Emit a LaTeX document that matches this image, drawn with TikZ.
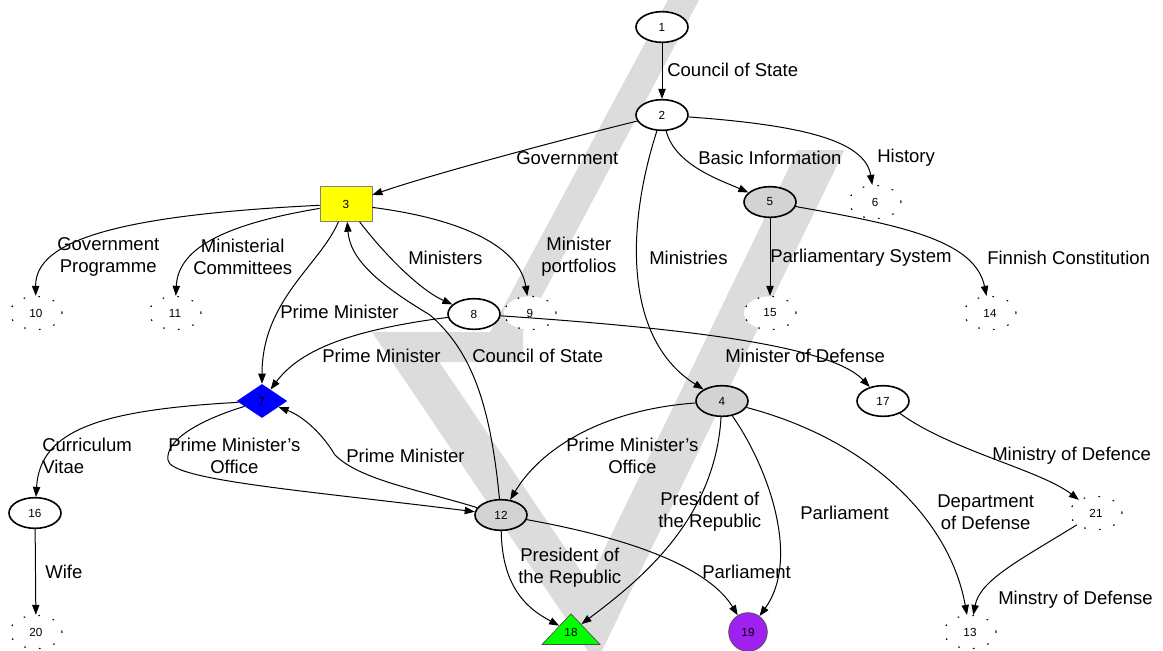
\documentclass[tikz,border=0pt]{standalone}
\usepackage{fontspec}
\setmainfont{Liberation Sans}
\usetikzlibrary{shapes.geometric,arrows.meta}
\definecolor{nodegray}{HTML}{D3D3D3}
\definecolor{markgray}{HTML}{DCDCDC}
\definecolor{nodeyellow}{HTML}{FFFF00}
\definecolor{nodeblue}{HTML}{0000FF}
\definecolor{nodegreen}{HTML}{00FF00}
\definecolor{nodepurple}{HTML}{A020F0}
\begin{document}
\begin{tikzpicture}[x=0.75pt,y=-0.75pt,
  numfont/.style={font=\fontsize{8.8}{10}\selectfont},
  plain/.style={ellipse, draw, fill=white, line width=1.2pt, minimum width=39pt, minimum height=23pt, inner sep=0pt, numfont},
  grayel/.style={plain, fill=nodegray},
  ghost/.style={ellipse, draw, fill=white, line width=0.8pt, dash pattern=on 1.2pt off 10pt, minimum width=39pt, minimum height=25pt, inner sep=0pt, numfont},
  lbl/.style={anchor=west, align=center, inner sep=0pt, font=\fontsize{13.9}{16.5}\selectfont},
  edge/.style={-{Triangle[length=7.5pt,width=5.5pt]}, line width=0.75pt}]
\useasboundingbox (0,0) rectangle (1163,650);

% background mark
\fill[markgray] (668,0) -- (699,0) -- (523,332) -- (490,332) -- cycle;
\fill[markgray] (372,332) -- (523,332) -- (523,362) -- (439.3,362) -- (588.4,582.2)
  -- (797.5,150) -- (844.5,150) -- (596,663) -- cycle;

% nodes
\node[plain] (n1) at (662,27) {1};
\node[plain] (n2) at (662,115) {2};
\node[rectangle, draw=gray, fill=nodeyellow, line width=0.6pt, minimum width=39pt, minimum height=26pt, inner sep=0pt, numfont] (n3) at (346,204) {3};
\node[grayel] (n5) at (770,202) {5};
\node[ghost] (n6) at (875,202) {6};
\node[ghost] (n10) at (36,313) {10};
\node[ghost] (n11) at (175,313) {11};
\node[plain] (n8) at (474,314) {8};
\node[ghost] (n9) at (530,313) {9};
\node[ghost] (n15) at (770,313) {15};
\node[ghost] (n14) at (990,313) {14};
\node[diamond, fill=nodeblue, minimum width=38pt, minimum height=25.5pt, inner sep=0pt] (n7) at (262,401) {};
\node[numfont, text=black] at (262,401) {7};
\node[grayel] (n4) at (722,401) {4};
\node[plain] (n17) at (883,401) {17};
\node[plain] (n16) at (35,513) {16};
\node[grayel] (n12) at (501,515) {12};
\node[ghost] (n21) at (1096,513) {21};
\node[ghost] (n20) at (36,632) {20};
\node[isosceles triangle, isosceles triangle stretches, shape border rotate=90, draw=black!70, fill=nodegreen, line width=0.5pt, minimum width=43.5pt, minimum height=23pt, inner sep=0pt] (n18) at (571,632) {};
\node[numfont] at (571,632) {18};
\node[circle, draw=black!70, fill=nodepurple, line width=0.5pt, minimum size=29pt, inner sep=0pt, numfont] (n19) at (748,632) {19};
\node[ghost] (n13) at (970,632) {13};

% connectors
\draw[edge] (n1) -- (n2);
\draw[edge] (n2) .. controls (560,140) and (430,175) .. (n3);
\draw[edge] (n2) .. controls (675,165) and (720,180) .. (n5);
\draw[edge] (n2) .. controls (800,125) and (865,140) .. (n6);
\draw[edge] (n2) .. controls (625,230) and (625,340) .. (n4);
\draw[edge] (n3) .. controls (120,215) and (35,240) .. (n10);
\draw[edge] (n3) .. controls (220,225) and (178,250) .. (n11);
\draw[edge] (n3) .. controls (385,255) and (420,290) .. (n8);
\draw[edge] (n3) .. controls (470,220) and (520,250) .. (n9);
\draw[edge] (n3) .. controls (320,265) and (262,300) .. (n7);
\draw[edge] (n5) -- (n15);
\draw[edge] (n5) .. controls (900,225) and (975,240) .. (n14);
\draw[edge] (n8) .. controls (350,330) and (300,350) .. (n7);
\draw[edge] (n8) .. controls (680,328) and (830,345) .. (n17);
\draw[edge] (n12) .. controls (490,400) and (470,350) .. (430,315) .. controls (380,285) and (350,260) .. (n3);
\draw[edge] (n7) .. controls (100,410) and (40,430) .. (n16);
\draw[edge] (n7) .. controls (200,420) and (165,440) .. (168,460) .. controls (170,480) and (300,490) .. (n12);
\draw[edge] (n12) .. controls (420,490) and (360,480) .. (335,455) .. controls (320,430) and (300,415) .. (n7);
\draw[edge] (n4) .. controls (600,410) and (540,450) .. (n12);
\draw[edge] (n4) .. controls (715,520) and (640,580) .. (n18);
\draw[edge] (n4) .. controls (770,470) and (800,560) .. (n19);
\draw[edge] (n4) .. controls (870,440) and (950,520) .. (n13);
\draw[edge] (n17) .. controls (950,450) and (1040,470) .. (n21);
\draw[edge] (n16) -- (n20);
\draw[edge] (n12) .. controls (502,590) and (530,610) .. (n18);
\draw[edge] (n12) .. controls (640,540) and (710,570) .. (n19);
\draw[edge] (n21) .. controls (1020,560) and (980,580) .. (n13);

% connector labels
\node[lbl] (l1) at (667,70) {Council of State};
\node[lbl] (l2) at (516,158) {Government};
\node[lbl] (l3) at (698,158) {Basic Information};
\node[lbl] (l4) at (877,158) {History};
\node[lbl] (l5) at (57,257) {Government\\Programme};
\node[lbl] (l6) at (193,257) {Ministerial\\Committees};
\node[lbl] (l7) at (408,258) {Ministers};
\node[lbl] (l8) at (541,257) {Minister\\portfolios};
\node[lbl] (l9) at (649,258) {Ministries};
\node[lbl] (l10) at (770,258) {Parliamentary System};
\node[lbl] (l11) at (987,258) {Finnish Constitution};
\node[lbl] (l12) at (280,312) {Prime Minister};
\node[lbl] (l13) at (322,356) {Prime Minister};
\node[lbl] (l14) at (472,356) {Council of State};
\node[lbl] (l15) at (725,356) {Minister of Defense};
\node[lbl, align=left] (l16) at (42,456) {Curriculum\\Vitae};
\node[lbl] (l17) at (168,456) {Prime Minister's\\Office};
\node[lbl] (l18) at (346,456) {Prime Minister};
\node[lbl] (l19) at (566,456) {Prime Minister's\\Office};
\node[lbl] (l20) at (992,456) {Ministry of Defence};
\node[lbl] (l21) at (658,512) {President of\\the Republic};
\node[lbl] (l22) at (800,513) {Parliament};
\node[lbl] (l23) at (937,512) {Department\\of Defense};
\node[lbl] (l24) at (45,572) {Wife};
\node[lbl] (l25) at (518,568) {President of\\the Republic};
\node[lbl] (l26) at (702,572) {Parliament};
\node[lbl] (l27) at (998,600) {Minstry of Defense};
\end{tikzpicture}
\end{document}
